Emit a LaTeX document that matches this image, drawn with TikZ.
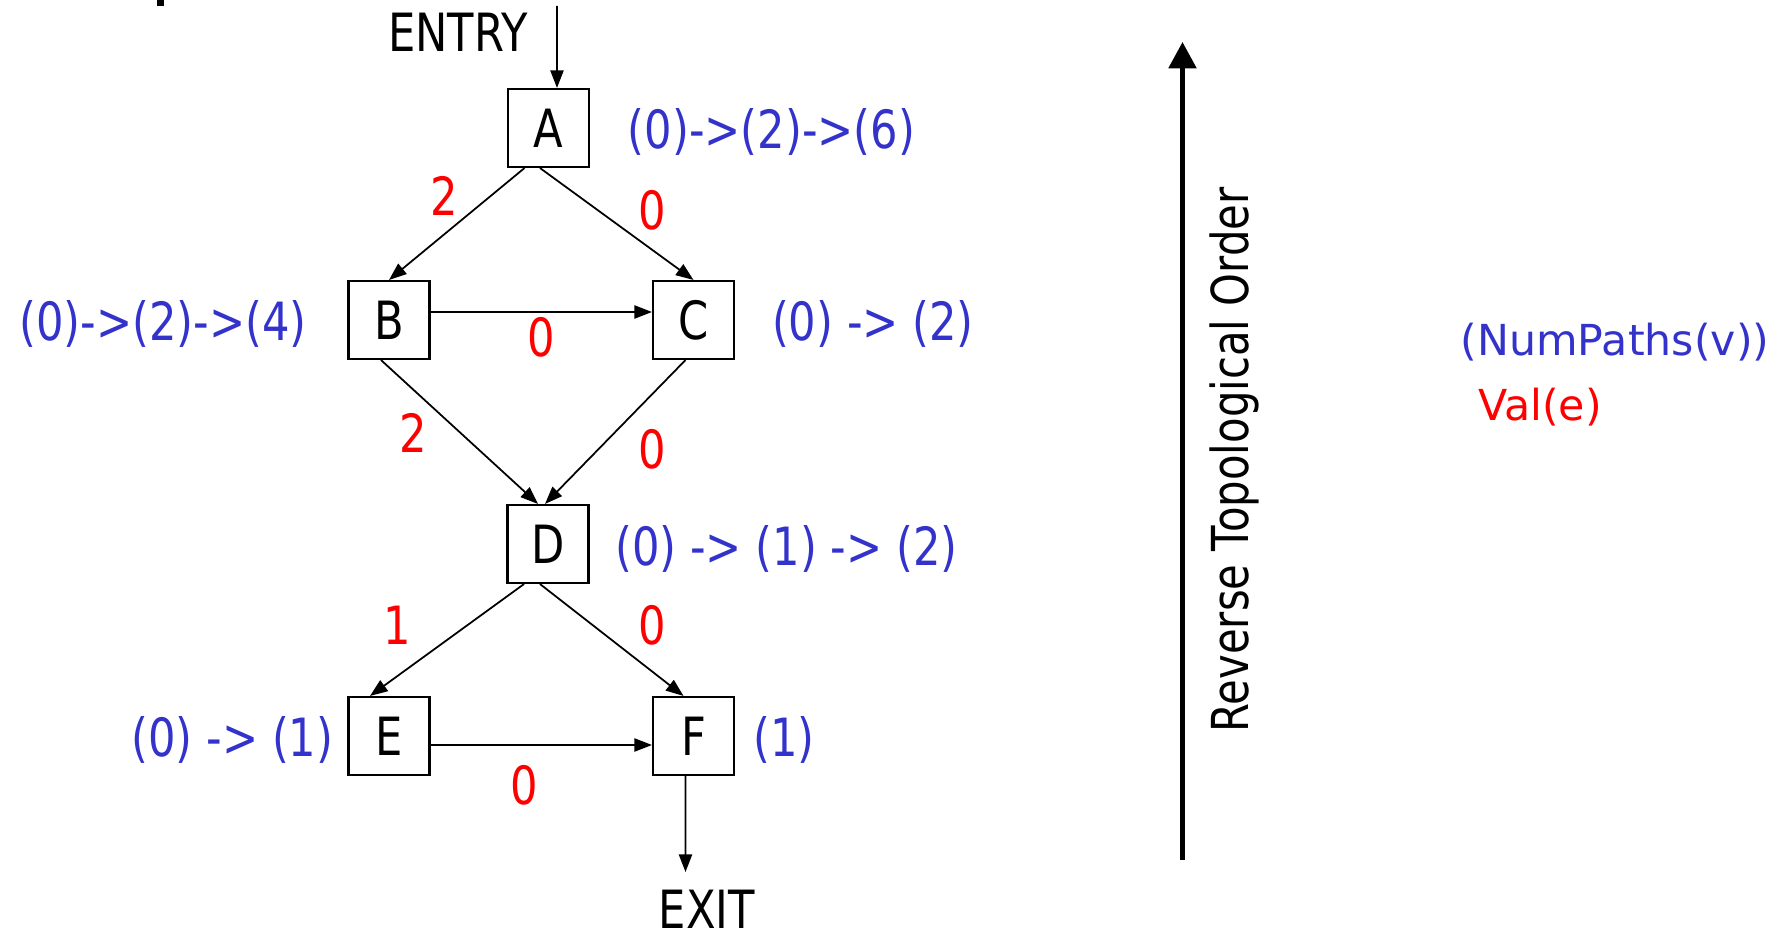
\documentclass[tikz,border=0pt]{standalone}
\usepackage{fontspec}
\setmainfont{DejaVu Sans}
\newfontfamily\diagfont[FakeStretch=0.82]{DejaVu Sans}
\newfontfamily\legendfont{DejaVu Sans}
\usetikzlibrary{arrows.meta}
\definecolor{pathblue}{RGB}{51,51,204}
\definecolor{valred}{RGB}{255,0,0}

\begin{document}
\begin{tikzpicture}[x=0.02cm, y=-0.02cm,
  blockbox/.style={draw, line width=1.2pt, minimum width=1.62cm, minimum height=1.56cm,
    inner sep=0pt, font=\diagfont\fontsize{30}{32}\selectfont},
  plain/.style={inner sep=0pt, font=\diagfont\fontsize{30}{32}\selectfont},
  count/.style={plain, text=pathblue},
  weight/.style={plain, text=valred},
  legend/.style={inner sep=0pt, font=\legendfont\fontsize{24.3}{26}\selectfont},
  edge/.style={line width=1pt, -{Triangle[length=10pt,width=7.5pt]}},
]
\useasboundingbox (0,0) rectangle (1783,932);

% stray glyph fragment at the top edge
\fill (157,0) rectangle (164,6);

% basic blocks
\node[blockbox] (A) at (548.5,128) {A};
\node[blockbox] (B) at (389,320) {B};
\node[blockbox] (C) at (693.5,320) {C};
\node[blockbox] (D) at (548,544) {D};
\node[blockbox] (E) at (389,736) {E};
\node[blockbox] (F) at (693.5,736) {F};

% entry and exit
\node[plain] (entry) at (458,32.5) {ENTRY};
\node[plain] (exit) at (707,909) {EXIT};
\coordinate (entryTop) at (557,6);
\coordinate (exitTip) at (685.5,872);

% control-flow edges
\draw[edge] (entryTop) -- ([xshift=0.17cm]A.north);
\draw[edge] ([xshift=-0.48cm]A.south) -- (B.north);
\draw[edge] ([xshift=-0.17cm]A.south) -- (C.north);
\draw[edge] ([yshift=0.16cm]B.east) -- ([yshift=0.16cm]C.west);
\draw[edge] ([xshift=-0.16cm]B.south) -- ([xshift=-0.2cm]D.north);
\draw[edge] ([xshift=-0.16cm]C.south) -- ([xshift=-0.06cm]D.north);
\draw[edge] ([xshift=-0.48cm]D.south) -- ([xshift=-0.38cm]E.north);
\draw[edge] ([xshift=-0.16cm]D.south) -- ([xshift=-0.2cm]F.north);
\draw[edge] ([yshift=-0.18cm]E.east) -- ([yshift=-0.18cm]F.west);
\draw[edge] ([xshift=-0.16cm]F.south) -- (exitTip);

% edge values
\node[weight] (vAB) at (444.6,195.6) {2};
\node[weight] (vAC) at (652.7,210.4) {0};
\node[weight] (vBC) at (541.3,337.7) {0};
\node[weight] (vBD) at (412.8,433.2) {2};
\node[weight] (vCD) at (652.7,449.2) {0};
\node[weight] (vDE) at (396.8,625.4) {1};
\node[weight] (vDF) at (652.7,625.4) {0};
\node[weight] (vEF) at (524.2,785.7) {0};

% path counts
\node[count] (nA) at (771.5,132) {(0)->(2)->(6)};
\node[count] (nB) at (163,324) {(0)->(2)->(4)};
\node[count] (nC) at (873,324) {(0) -> (2)};
\node[count] (nD) at (786.5,548.5) {(0) -> (1) -> (2)};
\node[count] (nE) at (232.5,740) {(0) -> (1)};
\node[count] (nF) at (784,740) {(1)};

% processing order
\coordinate (ordLow) at (1182.5,860);
\coordinate (ordHigh) at (1182.5,42);
\draw[line width=2.6pt, -{Triangle[length=15pt,width=15.5pt]}] (ordLow) -- (ordHigh);
\node[plain, font=\diagfont\fontsize{29}{31}\selectfont, rotate=90] (ord) at (1234,460) {Reverse Topological Order};

% legend
\node[legend, text=pathblue] (legN) at (1615,342) {(NumPaths(v))};
\node[legend, text=valred] (legV) at (1540,407) {Val(e)};
\end{tikzpicture}
\end{document}
